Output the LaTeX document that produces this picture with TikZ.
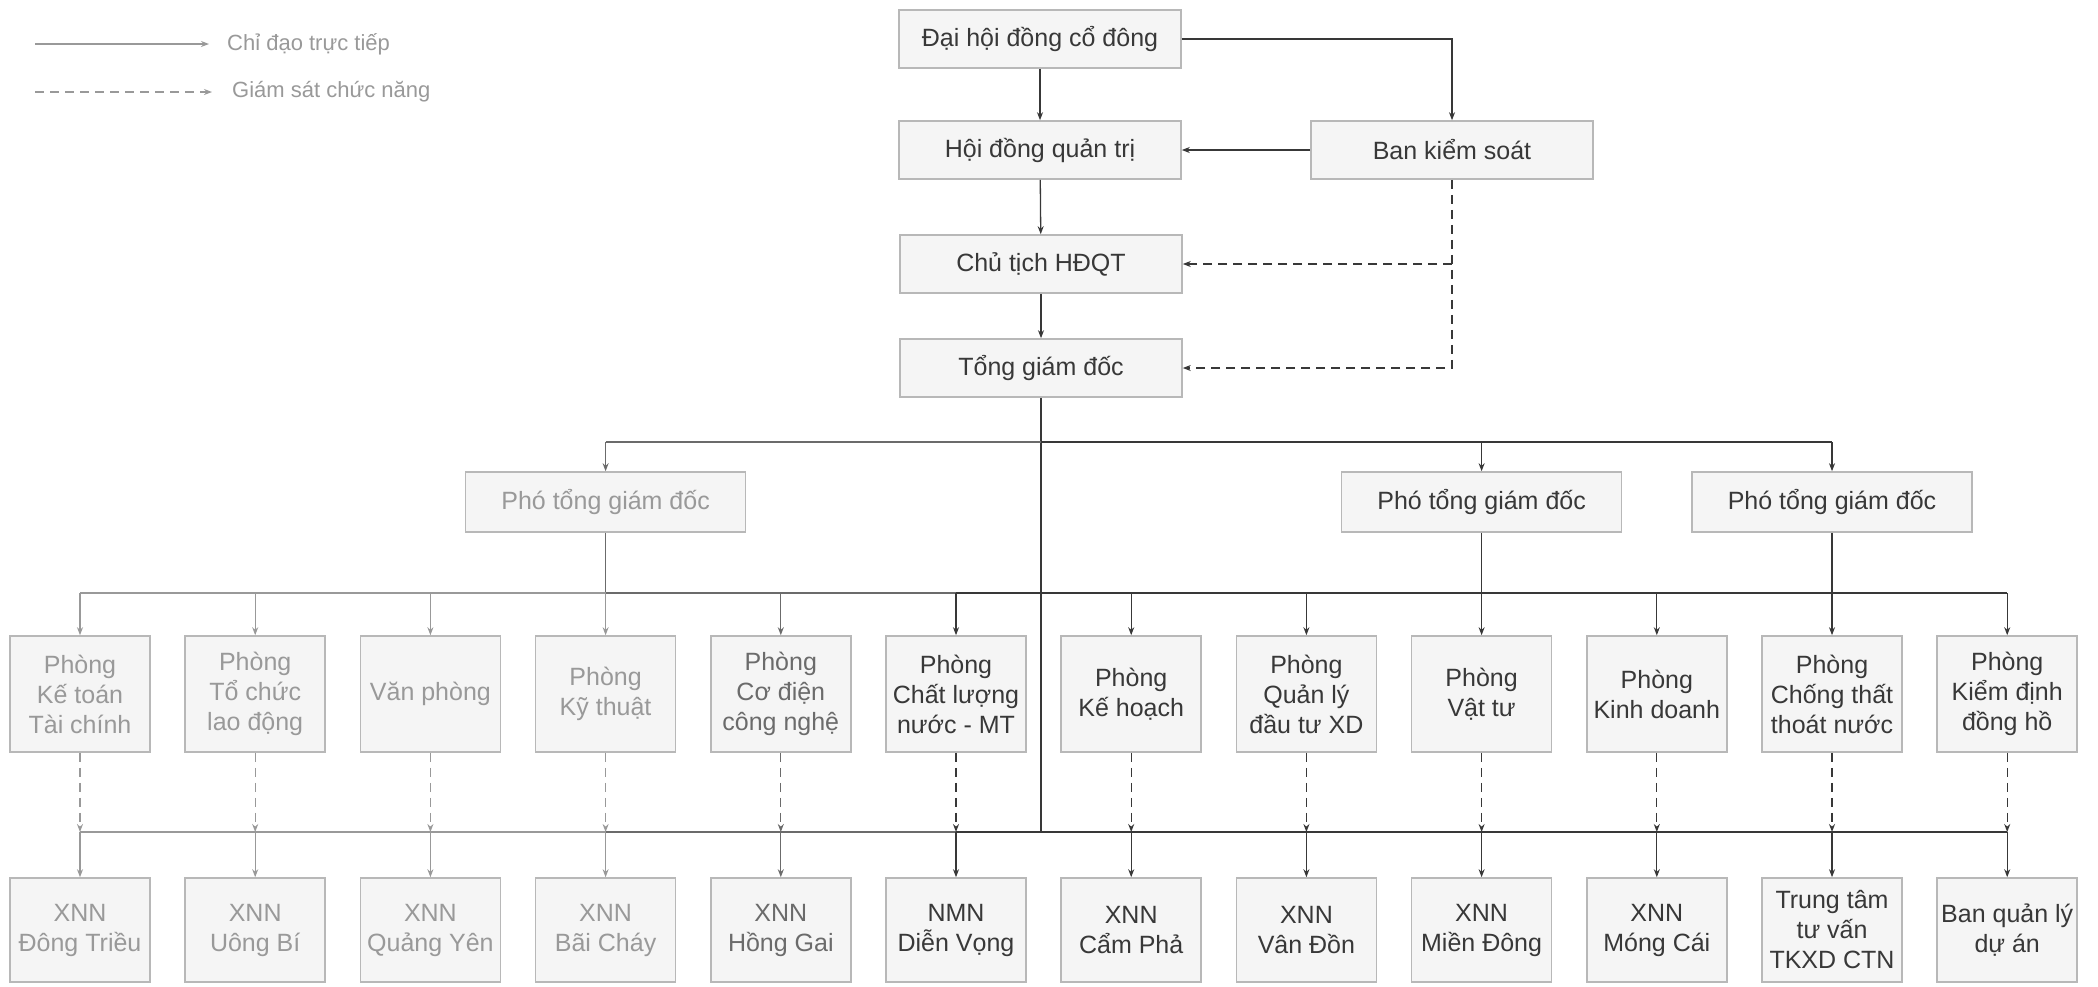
\documentclass[tikz,border=0pt]{standalone}
\usepackage{fontspec}
\setmainfont{Liberation Sans}
\usetikzlibrary{arrows.meta}
\colorlet{cA}{black!40}
\colorlet{cB}{black!58}
\colorlet{cC}{black!78}
\colorlet{boxline}{black!28}
\begin{document}
\begin{tikzpicture}[x=1pt,y=-1pt,
  box/.style={draw=boxline,line width=1.6pt,fill=black!4,align=center,inner sep=0pt,
    font=\fontsize{25}{30}\selectfont,text=cC},
  topbox/.style={box,minimum width=282pt,minimum height=58pt},
  vpbox/.style={box,minimum width=280pt,minimum height=60pt},
  dept/.style={box,minimum width=140pt,minimum height=116pt},
  unit/.style={box,minimum width=140pt,minimum height=104pt},
  conn/.style={draw=cC,line width=1.3pt},
  arr/.style={conn,-{Stealth[length=8pt,width=6pt]}},
  darr/.style={arr,dash pattern=on 9pt off 6pt},
  legtext/.style={font=\fontsize{22}{26}\selectfont,text=cA,inner sep=0pt,anchor=west}
]
\fill[white] (0,0) rectangle (2098,986);
\useasboundingbox (0,0) rectangle (2098,986);

% legend
\coordinate (l1) at (35,44);
\coordinate (l2) at (35,92);
\node[legtext] (lt1) at (227,44) {Chỉ đạo trực tiếp};
\node[legtext] (lt2) at (232,92) {Giám sát chức năng};
\draw[arr,draw=cA] (l1) -- ([xshift=-18pt]lt1.west);
\draw[darr,draw=cA] (l2) -- ([xshift=-20pt]lt2.west);

% top hierarchy
\node[topbox] (dh) at (1040,39) {Đại hội đồng cổ đông};
\node[topbox] (hd) at (1040,150) {Hội đồng quản trị};
\node[topbox] (bks) at (1452,150) {Ban kiểm soát};
\node[topbox] (ct) at (1041,264) {Chủ tịch HĐQT};
\node[topbox] (tgd) at (1041,368) {Tổng giám đốc};

\draw[arr] (dh) -- (hd);
\draw[arr] (dh.east) -| (bks.north);
\draw[arr] (bks.west) -- (hd.east);
\draw[arr] (hd) -- (ct);
\draw[arr] (ct) -- (tgd);
\draw[darr] (bks.south) |- (tgd.east);
\draw[darr] (bks.south |- ct.east) -- (ct.east);

% bus levels
\coordinate (bus1) at (0,442);
\coordinate (bus2) at (0,593);
\coordinate (bus3) at (0,832);

% departments and units
\foreach \i/\dname/\uname/\col in {
 1/{Phòng\\Kế toán\\Tài chính}/{XNN\\Đông Triều}/cA,
 2/{Phòng\\Tổ chức\\lao động}/{XNN\\Uông Bí}/cA,
 3/{Văn phòng}/{XNN\\Quảng Yên}/cA,
 4/{Phòng\\Kỹ thuật}/{XNN\\Bãi Cháy}/cA,
 5/{Phòng\\Cơ điện\\công nghệ}/{XNN\\Hồng Gai}/cB,
 6/{Phòng\\Chất lượng\\nước - MT}/{NMN\\Diễn Vọng}/cC,
 7/{Phòng\\Kế hoạch}/{XNN\\Cẩm Phả}/cC,
 8/{Phòng\\Quản lý\\đầu tư XD}/{XNN\\Vân Đồn}/cC,
 9/{Phòng\\Vật tư}/{XNN\\Miền Đông}/cC,
 10/{Phòng\\Kinh doanh}/{XNN\\Móng Cái}/cC,
 11/{Phòng\\Chống thất\\thoát nước}/{Trung tâm\\tư vấn\\TKXD CTN}/cC,
 12/{Phòng\\Kiểm định\\đồng hồ}/{Ban quản lý\\dự án}/cC}{
 \pgfmathsetmacro\xx{80+175.2*(\i-1)}
 \node[dept,text=\col] (p\i) at (\xx,694) {\dname};
 \node[unit,text=\col] (u\i) at (\xx,930) {\uname};
}

% deputy directors
\node[vpbox,text=cA] (vp1) at (p4 |- 0,502) {Phó tổng giám đốc};
\node[vpbox] (vp2) at (p9 |- 0,502) {Phó tổng giám đốc};
\node[vpbox] (vp3) at (p11 |- 0,502) {Phó tổng giám đốc};

% main trunk and first bus
\draw[conn] (tgd.south) -- (tgd.south |- bus3);
\draw[conn,draw=cB] (vp1 |- bus1) -- (tgd.south |- bus1);
\draw[conn] (tgd.south |- bus1) -- (vp3 |- bus1);
\draw[arr,draw=cB] (vp1 |- bus1) -- (vp1.north);
\draw[arr] (vp2 |- bus1) -- (vp2.north);
\draw[arr] (vp3 |- bus1) -- (vp3.north);

% second bus
\draw[conn,draw=cB] (vp1.south) -- (vp1 |- bus2);
\foreach \i/\j/\col in {1/2/cA,2/3/cA,3/4/cA,4/5/cB,5/6/cB,6/7/cC,7/8/cC,8/9/cC,9/10/cC,10/11/cC,11/12/cC}{
 \draw[conn,draw=\col] (p\i |- bus2) -- (p\j |- bus2);
 \draw[conn,draw=\col] (p\i |- bus3) -- (p\j |- bus3);
}
\foreach \i/\col in {1/cA,2/cA,3/cA,4/cA,5/cB,6/cC,7/cC,8/cC,10/cC,12/cC}{
 \draw[arr,draw=\col] (p\i |- bus2) -- (p\i.north);
}
\draw[arr] (vp2.south) -- (p9.north);
\draw[arr] (vp3.south) -- (p11.north);

% functional supervision and units
\foreach \i/\col in {1/cA,2/cA,3/cA,4/cA,5/cB,6/cC,7/cC,8/cC,9/cC,10/cC,11/cC,12/cC}{
 \draw[darr,draw=\col] (p\i.south) -- (p\i |- bus3);
 \draw[arr,draw=\col] (p\i |- bus3) -- (u\i.north);
}
\end{tikzpicture}
\end{document}
